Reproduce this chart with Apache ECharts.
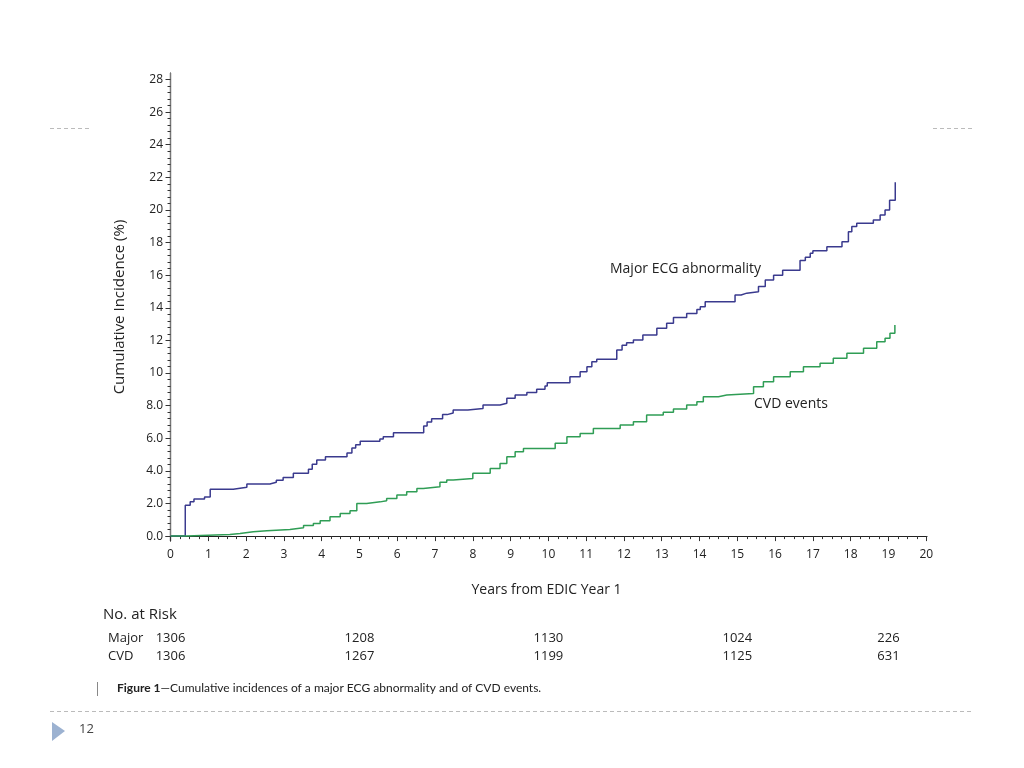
<!DOCTYPE html>
<html><head><meta charset="utf-8">
<script src="https://cdn.jsdelivr.net/npm/echarts@6/dist/echarts.min.js"></script>
<style>html,body{margin:0;padding:0;background:#fff}#c{width:1024px;height:768px}</style>
</head><body><div id="c"></div>
<script>
// ---- data ----
const majorYears = [0, 0.39, 0.52, 0.62, 0.9, 1.05, 1.66, 2.02, 2.63, 2.8, 2.98, 3.25, 3.65, 3.75, 3.87, 4.1, 4.67, 4.8, 4.9, 5.02, 5.54, 5.63, 5.9, 6.7, 6.79, 6.91, 7.2, 7.32, 7.48, 7.87, 8.27, 8.72, 8.9, 9.12, 9.43, 9.69, 9.91, 9.97, 10.57, 10.84, 11.02, 11.15, 11.28, 11.81, 11.95, 12.07, 12.25, 12.5, 12.87, 13.13, 13.31, 13.66, 13.93, 14.02, 14.15, 14.94, 15.1, 15.25, 15.56, 15.74, 15.96, 16.2, 16.66, 16.8, 16.93, 17.0, 17.37, 17.77, 17.94, 18.03, 18.16, 18.6, 18.78, 18.91, 19.03, 19.18];
const majorPct   = [0, 1.9, 2.1, 2.27, 2.4, 2.88, 3.0, 3.19, 3.3, 3.43, 3.6, 3.86, 4.1, 4.4, 4.66, 4.87, 5.1, 5.4, 5.6, 5.82, 5.95, 6.1, 6.34, 6.75, 7.0, 7.2, 7.45, 7.55, 7.73, 7.83, 8.04, 8.15, 8.45, 8.65, 8.8, 9.0, 9.2, 9.41, 9.78, 10.08, 10.39, 10.69, 10.84, 11.41, 11.7, 11.85, 12.02, 12.33, 12.75, 13.05, 13.4, 13.65, 13.9, 14.07, 14.37, 14.79, 14.9, 14.99, 15.3, 15.7, 16.0, 16.3, 16.9, 17.1, 17.34, 17.5, 17.75, 18.05, 18.67, 18.98, 19.18, 19.39, 19.69, 20.0, 20.6, 21.7];
const cvdYears = [0, 0.43, 1.57, 1.84, 2.19, 2.55, 3.16, 3.52, 3.78, 3.96, 4.22, 4.49, 4.75, 4.93, 5.19, 5.55, 5.72, 5.99, 6.25, 6.52, 6.69, 7.13, 7.31, 7.48, 8.0, 8.46, 8.72, 8.9, 9.12, 9.34, 10.18, 10.49, 10.84, 11.19, 11.9, 12.25, 12.6, 13.04, 13.31, 13.66, 13.93, 14.1, 14.5, 14.72, 15.43, 15.69, 15.96, 16.4, 16.75, 17.19, 17.54, 17.9, 18.34, 18.69, 18.91, 19.04, 19.17];
const cvdPct   = [0, 0.1, 0.16, 0.27, 0.33, 0.41, 0.51, 0.65, 0.78, 0.94, 1.19, 1.39, 1.55, 2.0, 2.1, 2.17, 2.31, 2.52, 2.72, 2.92, 3.02, 3.3, 3.44, 3.54, 3.85, 4.15, 4.46, 4.87, 5.17, 5.38, 5.69, 6.09, 6.3, 6.6, 6.81, 7.01, 7.42, 7.6, 7.8, 8.04, 8.24, 8.55, 8.65, 8.75, 9.16, 9.47, 9.77, 10.08, 10.39, 10.6, 10.9, 11.21, 11.52, 11.92, 12.13, 12.44, 12.94];
const xTickValues = [0,1,2,3,4,5,6,7,8,9,10,11,12,13,14,15,16,17,18,19,20];
const yTickValues = [0,2,4,6,8,10,12,14,16,18,20,22,24,26,28];
const riskYears = [0, 5, 10, 15, 19];
const riskMajor = [1306, 1208, 1130, 1024, 226];
const riskCVD   = [1306, 1267, 1199, 1125, 631];
const riskRowLabels = ['Major', 'CVD'];

// minor tick positions (quarters of a year, 0.4 % steps)
const xMinor = [];
for (let i = 0; i < 80; i++) { if (i % 4) xMinor.push(i / 4); }
const yMinor = [];
for (let i = 1; i < 70; i++) { if (i % 5) yMinor.push(Math.round(i * 4) / 10); }

const zip = (a, b) => a.map((v, i) => [v, b[i]]);
const FONT = '"Open Sans", "Noto Sans", sans-serif';
const XMIN = -0.12, XMAX = 20.02, YMIN = -0.3, YMAX = 28.4;

const chart = echarts.init(document.getElementById('c'), null, { renderer: 'canvas' });
const option = {
  animation: false,
  backgroundColor: '#fff',
  grid: { left: 166, right: 97, top: 73, bottom: 227 },
  xAxis: [
    { type: 'value', min: XMIN, max: XMAX, position: 'bottom',
      axisLine: { show: false }, splitLine: { show: false },
      axisTick: { show: true, customValues: xTickValues, length: 5, lineStyle: { color: '#333', width: 1 } },
      axisLabel: { customValues: xTickValues, margin: 8, fontSize: 12, color: '#222', fontFamily: FONT },
      name: 'Years from EDIC Year 1', nameLocation: 'middle', nameGap: 42,
      nameTextStyle: { fontSize: 14, color: '#222', fontFamily: FONT } },
    { type: 'value', min: XMIN, max: XMAX, position: 'bottom',
      axisLine: { show: false }, splitLine: { show: false }, axisLabel: { show: false },
      axisTick: { show: true, customValues: xMinor, length: 3, lineStyle: { color: '#333', width: 1 } } },
    { type: 'value', min: XMIN, max: XMAX, position: 'top',
      axisLine: { show: true, lineStyle: { color: '#222', width: 1.2 } },
      axisTick: { show: false }, axisLabel: { show: false }, splitLine: { show: false } }
  ],
  yAxis: [
    { type: 'value', min: YMIN, max: YMAX, position: 'left',
      axisLine: { show: true, lineStyle: { color: '#222', width: 1.2 } }, splitLine: { show: false },
      axisTick: { show: true, customValues: yTickValues, length: 5, lineStyle: { color: '#333', width: 1 } },
      axisLabel: { customValues: yTickValues, margin: 3, fontSize: 12, color: '#222', fontFamily: FONT,
        formatter: v => (v < 10 ? Number(v).toFixed(1) : String(v)) },
      name: 'Cumulative Incidence (%)', nameLocation: 'middle', nameGap: 39, nameRotate: 90,
      nameTextStyle: { fontSize: 15, color: '#222', fontFamily: FONT } },
    { type: 'value', min: YMIN, max: YMAX, position: 'left',
      axisLine: { show: false }, splitLine: { show: false }, axisLabel: { show: false },
      axisTick: { show: true, customValues: yMinor, length: 3, lineStyle: { color: '#333', width: 1 } } },
    { type: 'value', min: YMIN, max: YMAX, position: 'right',
      axisLine: { show: true, lineStyle: { color: '#777', width: 1.2 } },
      axisTick: { show: false }, axisLabel: { show: false }, splitLine: { show: false } }
  ],
  series: [
    { name: 'Major ECG abnormality', type: 'line', step: 'end', symbol: 'none',
      xAxisIndex: 0, yAxisIndex: 0, data: zip(majorYears, majorPct),
      lineStyle: { color: '#3a3a8e', width: 1.5 } },
    { name: 'CVD events', type: 'line', step: 'end', symbol: 'none',
      xAxisIndex: 0, yAxisIndex: 0, data: zip(cvdYears, cvdPct),
      lineStyle: { color: '#2f9d55', width: 1.5 } }
  ]
};
chart.setOption(option);

// annotations, risk table and slide decoration
const g = [];
g.push({ type: 'text', left: 610, top: 262, style: { text: 'Major ECG abnormality', font: '14px ' + FONT, fill: '#222' } });
g.push({ type: 'text', left: 754, top: 397, style: { text: 'CVD events', font: '14px ' + FONT, fill: '#222' } });
g.push({ type: 'text', left: 103, top: 607, style: { text: 'No. at Risk', font: '15px ' + FONT, fill: '#222' } });
const rows = [riskMajor, riskCVD];
rows.forEach((row, r) => {
  const y = 632 + r * 18;
  g.push({ type: 'text', left: 108, top: y, style: { text: riskRowLabels[r], font: '13px ' + FONT, fill: '#222' } });
  row.forEach((n, i) => {
    const px = chart.convertToPixel({ xAxisIndex: 0 }, riskYears[i]);
    g.push({ type: 'text', x: px, y: y, style: { text: String(n), font: '13px ' + FONT, fill: '#222', textAlign: 'center', textVerticalAlign: 'top' } });
  });
});
// caption
g.push({ type: 'line', shape: { x1: 97.5, y1: 682, x2: 97.5, y2: 696 }, style: { stroke: '#888', lineWidth: 1 } });
g.push({ type: 'text', left: 117, top: 682, style: { rich: { b: { fontWeight: 'bold', fontFamily: 'Lato, sans-serif', fontSize: 12, fill: '#222' }, n: { fontFamily: 'Lato, sans-serif', fontSize: 12, fill: '#222' } },
  text: '{b|Figure 1}{n|\u2014Cumulative incidences of a major ECG abnormality and of CVD events.}' } });
// slide dashed lines
const dash = { stroke: '#bbb', lineWidth: 1, lineDash: [4, 3] };
g.push({ type: 'line', shape: { x1: 50, y1: 128.5, x2: 92, y2: 128.5 }, style: dash });
g.push({ type: 'line', shape: { x1: 933, y1: 128.5, x2: 973, y2: 128.5 }, style: dash });
g.push({ type: 'line', shape: { x1: 50, y1: 711.5, x2: 973, y2: 711.5 }, style: dash });
g.push({ type: 'polygon', shape: { points: [[52, 722], [65, 731], [52, 741]] }, style: { fill: '#9cb2d1' } });
g.push({ type: 'text', left: 79, top: 723, style: { text: '12', font: '13px ' + FONT, fill: '#444' } });
chart.setOption({ graphic: g });
</script>
</body></html>
